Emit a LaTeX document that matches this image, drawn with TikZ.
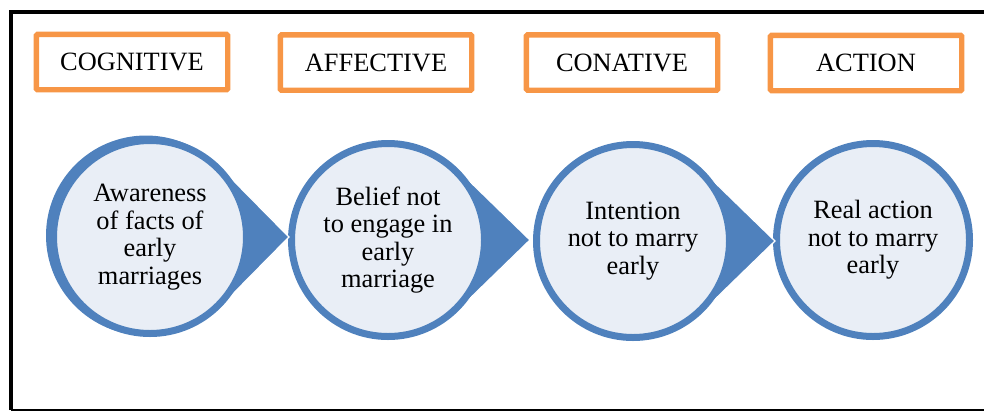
\documentclass[tikz,border=0pt]{standalone}
\usepackage{fontspec}
\newfontfamily\timesface{Liberation Serif}
\usetikzlibrary{calc}

\definecolor{ringblue}{RGB}{79,129,189}
\definecolor{discfill}{RGB}{233,238,246}
\definecolor{tagorange}{RGB}{247,150,70}

\begin{document}
\begin{tikzpicture}[
        x=0.75pt, y=-0.75pt,
        every node/.style={font=\timesface\fontsize{19.8}{20.6}\selectfont},
        stagetag/.style={draw=tagorange, line width=4.1pt, rounded corners=1pt,
            minimum width=143.6pt, minimum height=41.6pt, inner sep=0pt},
        stagedisc/.style={circle, draw=ringblue, fill=discfill, line width=5.25pt,
            minimum size=144.75pt, inner sep=0pt, align=center},
        pointer/.style={fill=ringblue, draw=white, line width=1pt}
    ]
        \useasboundingbox (0,0) rectangle (984,412);

        % Frame (open on the right)
        \draw[line width=3.4pt] (11,410) -- (11,12) -- (1000,12);
        \draw[line width=1.9pt] (11,410) -- (1000,410);

        % Disc centres
        \coordinate (c1) at (150,237);
        \coordinate (c2) at (388,240);
        \coordinate (c3) at (633,241);
        \coordinate (c4) at (873,240);

        % Stage headings
        \node[stagetag] (cognitive) at (132,62) {COGNITIVE};
        \node[stagetag] (affective) at (376,62.5) {AFFECTIVE};
        \node[stagetag] (conative) at (622,62.5) {CONATIVE};
        \node[stagetag] (actiontag) at (866,63) {ACTION};

        % Discs drawn from right to left so each pointer lies over the next disc
        % Action
        \node[stagedisc] (action) at (c4) {Real action\\ not to marry\\ early};
        % Intention
        \filldraw[pointer] ($(c3)+(45:99)$) -- ($(c3)+(142,0)$) -- ($(c3)+(-45:99)$);
        \node[stagedisc] (intent) at (c3) {Intention\\ not to marry\\ early};
        % Belief
        \filldraw[pointer] ($(c2)+(45:99)$) -- ($(c2)+(142,0)$) -- ($(c2)+(-45:99)$);
        \node[stagedisc] (belief) at (c2) {Belief not\\ to engage in\\ early\\ marriage};
        % Awareness (its ring is heavier on the left)
        \filldraw[pointer] ($(c1)+(45:99)$) -- ($(c1)+(139,0)$) -- ($(c1)+(-45:99)$);
        \fill[ringblue] ($(c1)+(-4,-1.5)$) circle (100);
        \node[stagedisc] (aware) at (c1) {Awareness\\ of facts of\\ early\\ marriages};

    \end{tikzpicture}
\end{document}
